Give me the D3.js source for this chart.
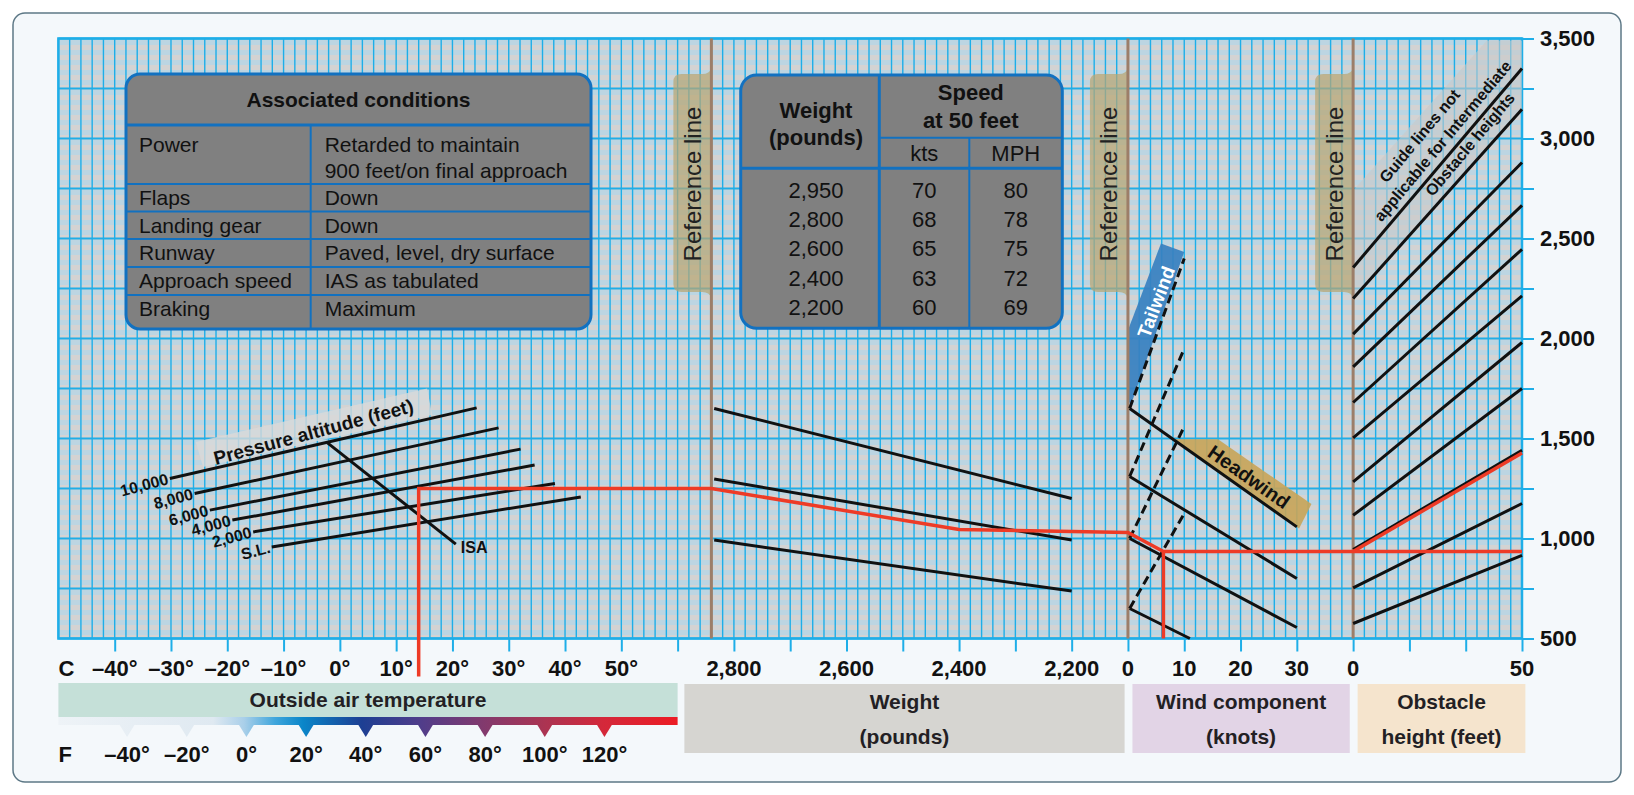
<!DOCTYPE html>
<html>
<head>
<meta charset="utf-8">
<script src="https://cdn.jsdelivr.net/npm/d3@7"></script>
<style>
  body { margin: 0; background: #ffffff; }
  svg text { font-family: "Liberation Sans", Arial, sans-serif; }
</style>
</head>
<body>
<svg id="chart" width="1634" height="795"></svg>
<script>
// ---------------- data ----------------
var tempTicks = [-40, -30, -20, -10, 0, 10, 20, 30, 40, 50];   // deg C
var fahrTicks = [-40, -20, 0, 20, 40, 60, 80, 100, 120];       // deg F
var weightTicks = [2800, 2600, 2400, 2200];
var windTicks = [0, 10, 20, 30];
var obstTicks = [0, 50];
var distTicks = d3.range(500, 3501, 250);                      // feet, right axis

// pressure altitude guide lines, [degC, feet]
var altNames = ["10,000", "8,000", "6,000", "4,000", "2,000", "S.L."];
var altStart = [[-30.2, 1300], [-25.8, 1225], [-23.1, 1142], [-19.1, 1092], [-15.4, 1033], [-12.1, 958]];
var altEnd = [[24.3, 1653], [28.2, 1553], [32.1, 1447], [34.6, 1367], [38.2, 1275], [42.8, 1208]];
var isaLine = [[-2.2, 1478], [20.6, 972]];

// weight guide lines (pounds -> feet)
var weightFrom = 2835, weightTo = 2200;
var weightFtFrom = [1650, 1297, 992];
var weightFtTo = [1200, 992, 737];

// wind guide lines (knots, feet)
var headFrom = [1650, 1310, 1000, 650];
var headTo = [[30, 1058], [30, 800], [30, 555], [11, 500]];
var tailTo = [2400, 1950, 1560, 1125];    // dashed, at 10 kts

// obstacle guide lines (feet at 0 ft obstacle -> feet at 50 ft obstacle)
var obstFrom = [2355, 2200, 2022, 1858, 1680, 1503, 1283, 1116, 945, 753, 575];
var obstTo = [3350, 3146, 2880, 2666, 2446, 2213, 1980, 1750, 1441, 1175, 916];

// worked example (red)
var exTemp = 14, exAlt = 1250;
var exWeight = [[2840, 1250], [2400, 1045], [2100, 1030]];
var exWind = [[0, 1030], [6.3, 935]];
var exObst = [[0, 935], [50, 1428]];

// tables
var condNames = ["Power", "Flaps", "Landing gear", "Runway", "Approach speed", "Braking"];
var condValues = [["Retarded to maintain", "900 feet/on final approach"], ["Down"], ["Down"],
                  ["Paved, level, dry surface"], ["IAS as tabulated"], ["Maximum"]];
var speedWeights = ["2,950", "2,800", "2,600", "2,400", "2,200"];
var speedKts = [70, 68, 65, 63, 60];
var speedMph = [80, 78, 75, 72, 69];

// ---------------- scales ----------------
var svg = d3.select("#chart");
var gridX = d3.scaleLinear().domain([0, 130]).range([58.4, 1522]);   // minor grid divisions
var y = d3.scaleLinear().domain([500, 3500]).range([638.5, 38.5]);
var xTemp = d3.scaleLinear().domain([-40, 50]).range([gridX(5), gridX(50)]);
var xF = d3.scaleLinear().domain([-40, 120]).range([gridX(6.1), gridX(48.5)]);
var xWeight = d3.scaleLinear().domain([2800, 2200]).range([gridX(60), gridX(90)]);
var xWind = d3.scaleLinear().domain([0, 30]).range([gridX(95), gridX(110)]);
var xObst = d3.scaleLinear().domain([0, 50]).range([gridX(115), gridX(130)]);
var refLines = [58, 95, 115];   // grid index of the three reference lines

var blue = "#1eaee8", black = "#111", red = "#ee3b26", brown = "#9c7e69";

// outer card
svg.append("rect").attr("x", 13).attr("y", 13).attr("width", 1608).attr("height", 769)
  .attr("rx", 12).attr("fill", "#f4f8fb").attr("stroke", "#5d7886").attr("stroke-width", 1.5);

// ---------------- grid ----------------
function drawGrid() {
  var g = svg.append("g");
  g.append("rect").attr("x", gridX(0)).attr("y", y(3500))
    .attr("width", gridX(130) - gridX(0)).attr("height", y(500) - y(3500)).attr("fill", "#d3d3d3");
  // light blue minor bands every 50 ft
  g.selectAll(".band").data(d3.range(550, 3501, 50)).enter().append("line")
    .attr("x1", gridX(0)).attr("x2", gridX(130))
    .attr("y1", function(d){ return y(d) + 4; }).attr("y2", function(d){ return y(d) + 4; })
    .attr("stroke", "#bcd5e2").attr("stroke-width", 5);
  g.selectAll(".vl").data(d3.range(0, 131)).enter().append("line")
    .attr("x1", gridX).attr("x2", gridX).attr("y1", y(3500)).attr("y2", y(500))
    .attr("stroke", blue).attr("stroke-width", 1.4);
  g.selectAll(".hl").data(distTicks).enter().append("line")
    .attr("x1", gridX(0)).attr("x2", gridX(130))
    .attr("y1", y).attr("y2", y).attr("stroke", blue).attr("stroke-width", 2);
  g.append("rect").attr("x", gridX(0)).attr("y", y(3500))
    .attr("width", gridX(130) - gridX(0)).attr("height", y(500) - y(3500))
    .attr("fill", "none").attr("stroke", blue).attr("stroke-width", 2.5);
}
drawGrid();

// ---------------- axes ----------------
var rightAxis = d3.axisRight(y).tickValues(distTicks).tickSize(12).tickPadding(6)
  .tickFormat(function(d){ return d % 500 === 0 ? d3.format(",")(d) : ""; });
var ra = svg.append("g").attr("transform", "translate(" + gridX(130) + ",0)").call(rightAxis);
ra.select(".domain").remove();
ra.selectAll("line").attr("stroke", blue).attr("stroke-width", 2);
ra.selectAll("text").attr("font-size", 22).attr("font-weight", "bold").attr("fill", black)
  .style("font-family", "'Liberation Sans', Arial, sans-serif");

var bottomAxis = d3.axisBottom(gridX).tickValues(d3.range(5, 131, 5)).tickSize(13).tickFormat("");
var ba = svg.append("g").attr("transform", "translate(0," + y(500) + ")").call(bottomAxis);
ba.select(".domain").remove();
ba.selectAll("line").attr("stroke", blue).attr("stroke-width", 2);

var labY = y(500) + 30;
var lab = svg.append("g").attr("font-size", 22).attr("font-weight", "bold").attr("fill", black)
  .attr("text-anchor", "middle");
lab.append("text").attr("x", gridX(0)).attr("y", labY).attr("dy", "0.35em")
  .attr("text-anchor", "start").text("C");
function tickLabels(vals, sc, fmt) {
  lab.selectAll(null).data(vals).enter().append("text")
    .attr("x", function(d){ return sc(d); }).attr("y", labY).attr("dy", "0.35em").text(fmt);
}
tickLabels(tempTicks, xTemp, function(d){ return (d < 0 ? "\u2013" + (-d) : d) + "\u00b0"; });
tickLabels(weightTicks, xWeight, d3.format(","));
tickLabels(windTicks, xWind, function(d){ return d; });
tickLabels(obstTicks, xObst, function(d){ return d; });

// ---------------- section boxes under the axis ----------------
var boxes = [
  {k0: 0, k1: 55, y0: 683, y1: 717, fill: "#c5e0d8", text: ["Outside air temperature"]},
  {k0: 55.6, k1: 94.7, y0: 684, y1: 753, fill: "#d6d5d1", text: ["Weight", "(pounds)"]},
  {k0: 95.4, k1: 114.7, y0: 684, y1: 753, fill: "#e2d4e6", text: ["Wind component", "(knots)"]},
  {k0: 115.4, k1: 130.3, y0: 684, y1: 753, fill: "#f5e4cd", text: ["Obstacle", "height (feet)"]}
];
boxes.forEach(function(b) {
  svg.append("rect").attr("x", gridX(b.k0)).attr("y", b.y0)
    .attr("width", gridX(b.k1) - gridX(b.k0)).attr("height", b.y1 - b.y0).attr("fill", b.fill);
  var cy = b.text.length == 1 ? (b.y0 + b.y1) / 2 : b.y0 + 18;
  b.text.forEach(function(t, i) {
    svg.append("text").attr("x", (gridX(b.k0) + gridX(b.k1)) / 2).attr("y", cy + i * 35)
      .attr("dy", "0.35em").attr("text-anchor", "middle").attr("font-size", 21)
      .attr("font-weight", "bold").attr("fill", "#231f24").text(t);
  });
});

// fahrenheit colour bar
var defs = svg.append("defs");
var grad = defs.append("linearGradient").attr("id", "fgrad").attr("gradientUnits", "userSpaceOnUse")
  .attr("x1", gridX(0)).attr("x2", gridX(55)).attr("y1", 0).attr("y2", 0);
[[0, "#eef3f7"], [0.25, "#dfe9f1"], [0.3, "#a9cfe9"], [0.35, "#3fa6dc"], [0.395, "#0a86c9"],
 [0.49, "#1d3f93"], [0.585, "#503d8a"], [0.68, "#7f3a6f"], [0.785, "#ab3452"],
 [0.88, "#d4283a"], [1, "#ec1c24"]].forEach(function(s) {
  grad.append("stop").attr("offset", s[0]).attr("stop-color", s[1]);
});
svg.append("rect").attr("x", gridX(0)).attr("y", 717).attr("width", gridX(55) - gridX(0))
  .attr("height", 8).attr("fill", "url(#fgrad)");
svg.selectAll(".ftri").data(fahrTicks).enter().append("path")
  .attr("d", function(d){ var x = xF(d); return "M" + (x - 8) + ",724 L" + (x + 8) + ",724 L" + x + ",737 Z"; })
  .attr("fill", "url(#fgrad)");
var fl = svg.append("g").attr("font-size", 22).attr("font-weight", "bold").attr("fill", black)
  .attr("text-anchor", "middle");
fl.append("text").attr("x", gridX(0)).attr("y", 754).attr("dy", "0.35em").attr("text-anchor", "start").text("F");
fl.selectAll(null).data(fahrTicks).enter().append("text")
  .attr("x", function(d){ return xF(d); }).attr("y", 754).attr("dy", "0.35em")
  .text(function(d){ return (d < 0 ? "\u2013" + (-d) : d) + "\u00b0"; });

// ---------------- annotation bands ----------------
function poly(pts, sx, fill, op) {
  svg.append("path").attr("d", d3.line().x(function(d){ return sx(d[0]); }).y(function(d){ return y(d[1]); })(pts) + "Z")
    .attr("fill", fill).attr("opacity", op);
}
poly([[-25.6, 1483], [15.5, 1750], [16.4, 1617], [-24.3, 1358]], xTemp, "#d9d9d9", 0.8);
poly([[0, 2740], [39.6, 3490], [50, 3490], [50, 3146], [0, 2200]], xObst, "#c9c9c9", 0.6);
poly([[5.86, 2475], [10, 2433], [0.5, 1666], [0, 1692], [0, 2041]], xWind, "#3780c0", 0.92);
poly([[8.4, 1496], [16, 1496], [32.6, 1172], [30.4, 1050], [8.4, 1484]], xWind, "#c8a458", 0.9);

// reference line tabs
refLines.forEach(function(k) {
  var rx = gridX(k), lx = rx - 38, t = 68, b = 298;
  svg.append("path")
    .attr("d", "M" + rx + "," + t + " Q" + (rx - 2) + "," + (t + 6) + " " + (rx - 9) + "," + (t + 6) +
      " L" + (lx + 8) + "," + (t + 6) + " Q" + lx + "," + (t + 6) + " " + lx + "," + (t + 14) +
      " L" + lx + "," + (b - 14) + " Q" + lx + "," + (b - 6) + " " + (lx + 8) + "," + (b - 6) +
      " L" + (rx - 9) + "," + (b - 6) + " Q" + (rx - 2) + "," + (b - 6) + " " + rx + "," + b + " Z")
    .attr("fill", "#b8a673").attr("opacity", 0.72);
  svg.append("text").attr("transform", "translate(" + (rx - 19) + ",184) rotate(-90)")
    .attr("text-anchor", "middle").attr("dy", "0.35em").attr("font-size", 24).attr("fill", "#222")
    .text("Reference line");
});
svg.selectAll(".ref").data(refLines).enter().append("line")
  .attr("x1", gridX).attr("x2", gridX).attr("y1", y(3500)).attr("y2", y(500))
  .attr("stroke", brown).attr("stroke-width", 3);

// ---------------- guide lines ----------------
function seg(a, b, sx, col, dash, w) {
  svg.append("line").attr("x1", sx(a[0])).attr("y1", y(a[1])).attr("x2", sx(b[0])).attr("y2", y(b[1]))
    .attr("stroke", col).attr("stroke-width", w || 3).attr("stroke-dasharray", dash || null);
}
altStart.forEach(function(s, i){ seg(s, altEnd[i], xTemp, black); });
seg(isaLine[0], isaLine[1], xTemp, black);
weightFtFrom.forEach(function(f, i){ seg([weightFrom, f], [weightTo, weightFtTo[i]], xWeight, black); });
headFrom.forEach(function(f, i){ seg([0.3, f], headTo[i], xWind, black); });
headFrom.forEach(function(f, i){ seg([0.3, f], [10, tailTo[i]], xWind, black, "9,5"); });
obstFrom.forEach(function(f, i){ seg([0, f], [50, obstTo[i]], xObst, black); });

// ---------------- worked example path ----------------
var pathPts = [[xTemp(exTemp), y(500) + 38], [xTemp(exTemp), y(exAlt)]];
exWeight.forEach(function(p){ pathPts.push([xWeight(p[0]), y(p[1])]); });
pathPts.push([xWind(exWind[1][0]), y(exWind[1][1])]);
pathPts.push([xObst(50), y(exWind[1][1])]);
svg.append("path").attr("d", d3.line()(pathPts)).attr("fill", "none")
  .attr("stroke", red).attr("stroke-width", 3.5);
seg([exWind[1][0], exWind[1][1]], [exWind[1][0], 500], xWind, red, null, 3.5);
seg(exObst[0], exObst[1], xObst, red, null, 3.5);

// ---------------- text annotations ----------------
function rotText(x, yy, ang, txt, size, col, weight) {
  svg.append("text").attr("transform", "translate(" + x + "," + yy + ") rotate(" + ang + ")")
    .attr("text-anchor", "middle").attr("dy", "0.35em").attr("font-size", size)
    .attr("font-weight", weight || "bold").attr("fill", col).text(txt);
}
rotText(xTemp(-4.7), y(1533), -15, "Pressure altitude (feet)", 19, black);
altStart.forEach(function(s, i) {
  svg.append("text").attr("transform", "translate(" + (xTemp(s[0]) - 2) + "," + y(s[1]) + ") rotate(-15)")
    .attr("text-anchor", "end").attr("dy", "0.35em").attr("font-size", 16).attr("font-weight", "bold")
    .attr("fill", black).text(altNames[i]);
});
svg.append("text").attr("x", xTemp(isaLine[1][0]) + 5).attr("y", y(isaLine[1][1]) + 3).attr("dy", "0.35em")
  .attr("font-size", 16).attr("font-weight", "bold").attr("fill", black).text("ISA");
rotText(xWind(5), y(2183), -69.5, "Tailwind", 19, "#fff");
rotText(xWind(21.5), y(1308), 35, "Headwind", 20, black);

var gl = svg.append("g").attr("transform", "translate(" + xObst(26.5) + "," + y(2988) + ") rotate(-50)")
  .attr("text-anchor", "middle").attr("font-size", 16).attr("font-weight", "bold").attr("fill", black);
[["Guide lines not", -11, -21], ["applicable for Intermediate", 0, 0], ["Obstacle heights", 15, 23]]
  .forEach(function(r) {
    gl.append("text").attr("x", r[1]).attr("y", r[2]).attr("dy", "0.35em").text(r[0]);
  });

// ---------------- tables ----------------
function drawCondTable() {
  var x0 = 126, x1 = 310.7, x2 = 591, top = 74, bot = 329;
  var rowTops = [125, 184, 211.5, 239, 267, 295];
  var g = svg.append("g");
  g.append("rect").attr("x", x0).attr("y", top).attr("width", x2 - x0).attr("height", bot - top)
    .attr("rx", 14).attr("fill", "#808080").attr("stroke", "#1271c0").attr("stroke-width", 3);
  rowTops.forEach(function(r, i) {
    g.append("line").attr("x1", x0).attr("x2", x2).attr("y1", r).attr("y2", r)
      .attr("stroke", "#1271c0").attr("stroke-width", i == 0 ? 3 : 2);
  });
  g.append("line").attr("x1", x1).attr("x2", x1).attr("y1", rowTops[0]).attr("y2", bot)
    .attr("stroke", "#1271c0").attr("stroke-width", 2);
  g.append("text").attr("x", (x0 + x2) / 2).attr("y", 100).attr("dy", "0.35em").attr("text-anchor", "middle")
    .attr("font-size", 21).attr("font-weight", "bold").attr("fill", black).text("Associated conditions");
  condNames.forEach(function(n, i) {
    var cy = rowTops[i] + 14 + (condValues[i].length > 1 ? 6 : 0);
    g.append("text").attr("x", x0 + 13).attr("y", cy).attr("dy", "0.35em").attr("font-size", 21)
      .attr("fill", black).text(n);
    condValues[i].forEach(function(v, j) {
      g.append("text").attr("x", x1 + 14).attr("y", cy + j * 26).attr("dy", "0.35em").attr("font-size", 21)
        .attr("fill", black).text(v);
    });
  });
}
drawCondTable();

function drawSpeedTable() {
  var xs = [740.7, 879.3, 969.3, 1062.3], top = 75, sub = 137.7, hdr = 168.3, bot = 328.3;
  var c = "#1271c0";
  var g = svg.append("g");
  g.append("rect").attr("x", xs[0]).attr("y", top).attr("width", xs[3] - xs[0]).attr("height", bot - top)
    .attr("rx", 16).attr("fill", "#808080").attr("stroke", c).attr("stroke-width", 3);
  g.append("line").attr("x1", xs[1]).attr("x2", xs[1]).attr("y1", top).attr("y2", bot).attr("stroke", c).attr("stroke-width", 3);
  g.append("line").attr("x1", xs[2]).attr("x2", xs[2]).attr("y1", sub).attr("y2", bot).attr("stroke", c).attr("stroke-width", 2);
  g.append("line").attr("x1", xs[1]).attr("x2", xs[3]).attr("y1", sub).attr("y2", sub).attr("stroke", c).attr("stroke-width", 2);
  g.append("line").attr("x1", xs[0]).attr("x2", xs[3]).attr("y1", hdr).attr("y2", hdr).attr("stroke", c).attr("stroke-width", 3);
  function t(x, yy, txt, bold) {
    g.append("text").attr("x", x).attr("y", yy).attr("dy", "0.35em").attr("text-anchor", "middle")
      .attr("font-size", 22).attr("font-weight", bold ? "bold" : "normal").attr("fill", black).text(txt);
  }
  var c0 = (xs[0] + xs[1]) / 2, c1 = (xs[1] + xs[2]) / 2, c2 = (xs[2] + xs[3]) / 2, c12 = (xs[1] + xs[3]) / 2;
  t(c0 + 6, 110, "Weight", true); t(c0 + 6, 137, "(pounds)", true);
  t(c12, 92, "Speed", true); t(c12, 120, "at 50 feet", true);
  t(c1, 153, "kts"); t(c2, 153, "MPH");
  speedWeights.forEach(function(w, i) {
    var yy = 190 + i * 29.3;
    t(c0 + 6, yy, w); t(c1, yy, speedKts[i]); t(c2, yy, speedMph[i]);
  });
}
drawSpeedTable();
</script>
</body>
</html>
